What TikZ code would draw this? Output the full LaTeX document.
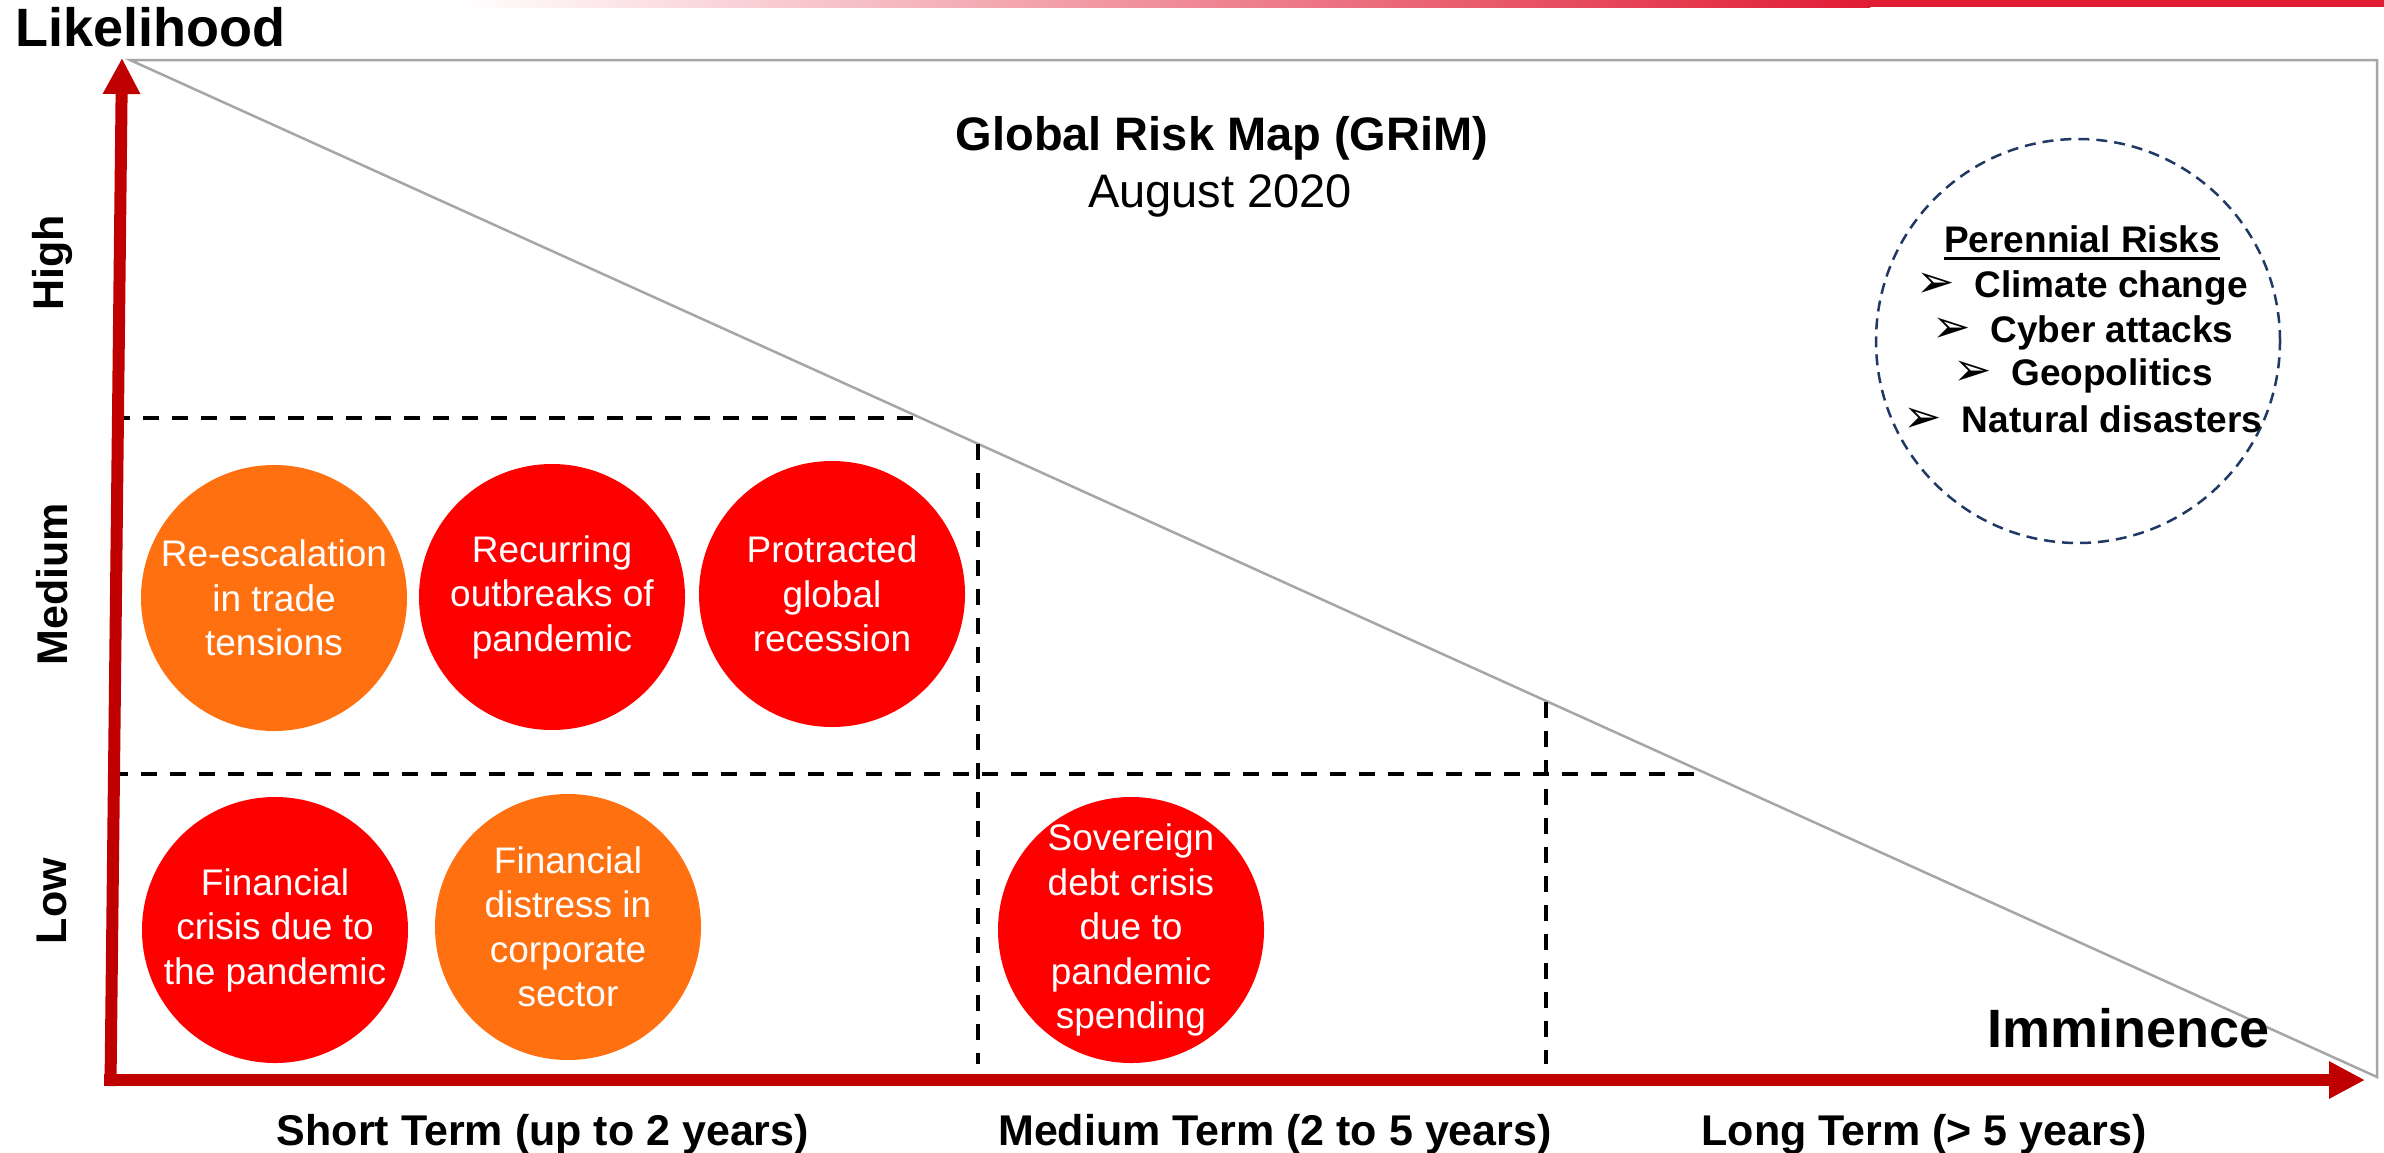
\documentclass[tikz,border=0pt]{standalone}
\usepackage{fontspec}
\setmainfont{Liberation Sans}
\newfontfamily\dingfont{DejaVu Sans}
\usetikzlibrary{arrows.meta,shapes.geometric}

\definecolor{axisred}{RGB}{192,0,0}
\definecolor{riskred}{RGB}{255,0,0}
\definecolor{riskorange}{RGB}{255,112,16}
\definecolor{edgegray}{RGB}{166,166,166}
\definecolor{ringblue}{RGB}{31,56,100}
\definecolor{bandred}{RGB}{224,28,52}
\definecolor{bandmid}{RGB}{238,145,118}

% underlined heading with a heavier rule
\newsavebox\ulsave
\newcommand\ulined[1]{\sbox\ulsave{#1}\rlap{\rule[-7.5pt]{\wd\ulsave}{3pt}}\usebox\ulsave}
% arrowhead bullet in a fixed-width slot
\newcommand\arrowbullet{\makebox[58pt][l]{\dingfont\fontsize{46}{46}\selectfont ➢}}

\tikzset{
  redaxis/.style={draw=axisred, line width=12pt, -{Triangle[length=36pt,width=35pt]}},
  divider/.style={black, line width=4pt, dash pattern=on 16pt off 13pt},
  bubble/.style={circle, inner sep=0pt, minimum size=266pt, draw=none},
  hot/.style={bubble, fill=riskred},
  warm/.style={bubble, fill=riskorange},
  bubbletext/.style={text=white, align=center, inner sep=0pt,
    font=\fontsize{37}{44.5}\selectfont},
  axislabel/.style={inner sep=0pt, font=\bfseries\fontsize{54}{60}\selectfont},
  termlabel/.style={inner sep=0pt, anchor=base, font=\bfseries\fontsize{43}{50}\selectfont},
  levellabel/.style={inner sep=0pt, rotate=90, font=\bfseries\fontsize{43}{50}\selectfont},
  perline/.style={inner sep=0pt, anchor=base, font=\bfseries\fontsize{37}{45}\selectfont},
}

\begin{document}
\begin{tikzpicture}[x=1pt, y=-1pt]
  \useasboundingbox (0,0) rectangle (2384,1152);
  \fill[white] (0,0) rectangle (2384,1152);

  % coloured band along the top edge
  \shade[left color=white, middle color=bandmid, right color=bandred] (456,0) rectangle (1870,7);
  \fill[bandred] (1870,0) rectangle (2384,7);

  % imminence / likelihood triangle
  \coordinate (triA) at (130,60);
  \coordinate (triB) at (2377,60);
  \coordinate (triC) at (2377,1077);
  \draw[edgegray, line width=2.5pt, line join=miter] (triA) -- (triB) -- (triC) -- cycle;

  % grid dividers
  \coordinate (h1a) at (114,418);  \coordinate (h1b) at (920,418);
  \coordinate (h2a) at (112,774);  \coordinate (h2b) at (1707,774);
  \coordinate (v1a) at (978,444);  \coordinate (v1b) at (978,1064);
  \coordinate (v2a) at (1546,702); \coordinate (v2b) at (1546,1064);
  \draw[divider] (h1a) -- (h1b);
  \draw[divider] (h2a) -- (h2b);
  \draw[divider] (v1a) -- (v1b);
  \draw[divider] (v2a) -- (v2b);

  % risk bubbles
  \node[warm] (trade)     at (274,598) {};
  \node[hot]  (outbreaks) at (552,597) {};
  \node[hot]  (recession) at (832,594) {};
  \node[hot]  (fincrisis) at (275,930) {};
  \node[warm] (distress)  at (568,927) {};
  \node[hot]  (sovereign) at (1131,930) {};

  \node[bubbletext] (tradeT)     at (trade)     {Re-escalation\\in trade\\tensions};
  \node[bubbletext] (outbreaksT) at (outbreaks) {Recurring\\outbreaks of\\pandemic};
  \node[bubbletext] (recessionT) at (recession) {Protracted\\global\\recession};
  \node[bubbletext] (fincrisisT) at (fincrisis) {Financial\\crisis due to\\the pandemic};
  \node[bubbletext] (distressT)  at (distress)  {Financial\\distress in\\corporate\\sector};
  \node[bubbletext] (sovereignT) at (sovereign) {Sovereign\\debt crisis\\due to\\pandemic\\spending};

  % axes
  \coordinate (xstart) at (104,1080);
  \coordinate (xtip)   at (2365,1080);
  \coordinate (ystart) at (110.5,1086);
  \coordinate (ytip)   at (122,58);
  \draw[redaxis] (xstart) -- (xtip);
  \draw[redaxis] (ystart) -- (ytip);

  % axis titles
  \node[axislabel, anchor=base west] (likelihood) at (15,46) {Likelihood};
  \node[axislabel, anchor=base east] (imminence) at (2270,1047) {Imminence};

  % likelihood levels
  \node[levellabel] (high)   at (52,263) {High};
  \node[levellabel] (medium) at (52,584) {Medium};
  \node[levellabel] (low)    at (52,901) {Low};

  % time horizons
  \node[termlabel] (short)  at (543,1145)  {Short Term (up to 2 years)};
  \node[termlabel] (mid)    at (1275,1145) {Medium Term (2 to 5 years)};
  \node[termlabel] (long)   at (1924,1145) {Long Term (> 5 years)};

  % heading
  \node[inner sep=0pt, anchor=base, font=\bfseries\fontsize{47}{55}\selectfont] (title) at (1222,150) {Global Risk Map (GRiM)};
  \node[inner sep=0pt, anchor=base, font=\fontsize{47}{55}\selectfont] (date) at (1220,207) {August 2020};

  % perennial risks
  \node[circle, draw=ringblue, line width=2.5pt, dash pattern=on 11pt off 7pt,
        inner sep=0pt, minimum size=404pt] (perennial) at (2078,341) {};
  \node[perline] (perT) at (2082,252) {\ulined{Perennial Risks}};
  \node[perline] (per1) at (2082,297) {\arrowbullet Climate change};
  \node[perline] (per2) at (2083,342) {\arrowbullet Cyber attacks};
  \node[perline] (per3) at (2083,385) {\arrowbullet Geopolitics};
  \node[perline] (per4) at (2083,432) {\arrowbullet Natural disasters};
\end{tikzpicture}
\end{document}
